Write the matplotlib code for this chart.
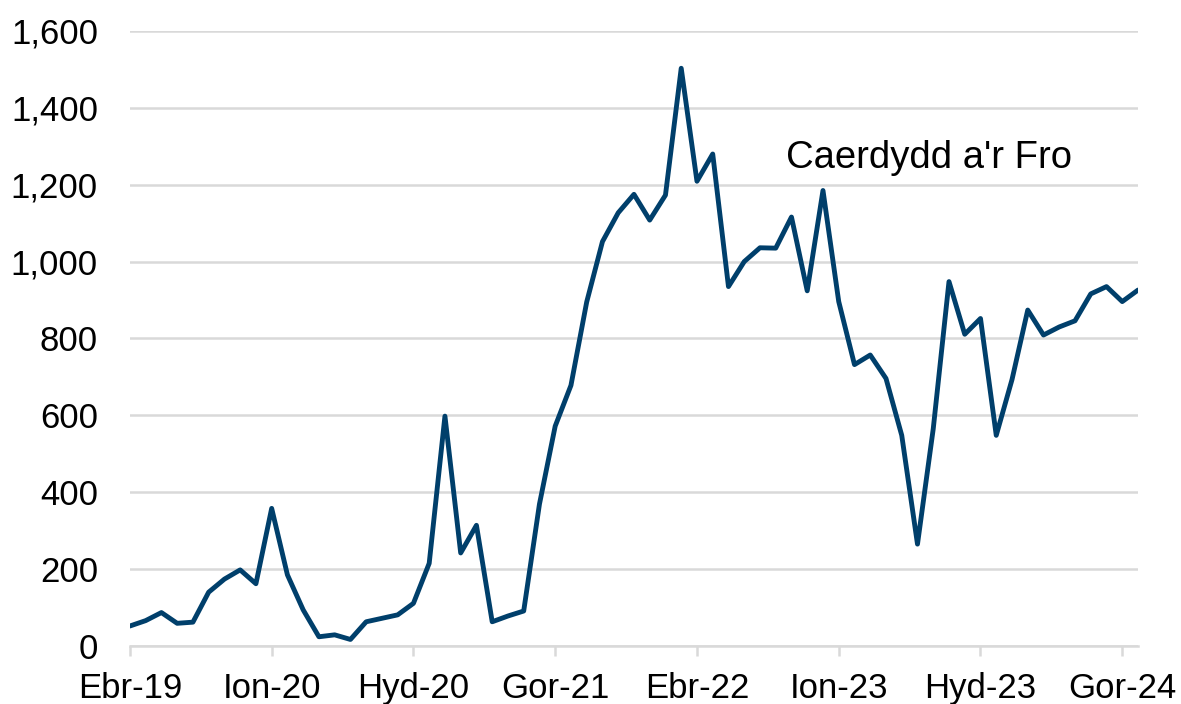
import matplotlib.pyplot as plt
import numpy as np

plt.rcParams['font.family'] = ['Liberation Sans', 'DejaVu Sans']

# monthly values, Ebr-19 (Apr 2019) to Aws-24 (Aug 2024)
values = [52, 66, 87, 59, 62, 140, 174, 198, 162, 358,
          185, 94, 24, 29, 17, 63, 72, 81, 111, 215,
          598, 242, 314, 63, 78, 91, 369, 572, 678, 895,
          1052, 1127, 1175, 1108, 1173, 1503, 1209, 1280, 935, 1000,
          1036, 1035, 1116, 924, 1185, 896, 732, 757, 696, 548,
          265, 565, 948, 811, 852, 548, 693, 874, 809, 830,
          846, 916, 935, 896, 926]
tick_idx = [0, 9, 18, 27, 36, 45, 54, 63]
tick_labels = ['Ebr-19', 'Ion-20', 'Hyd-20', 'Gor-21', 'Ebr-22', 'Ion-23', 'Hyd-23', 'Gor-24']
series_name = "Caerdydd a'r Fro"

x = np.arange(len(values))

fig = plt.figure(figsize=(11.81, 7.04), dpi=100)
ax = fig.add_axes([0.110, 0.0824, 0.8536, 0.8736])

ax.plot(x, values, color='#003f6b', linewidth=3.5, solid_joinstyle='round',
        solid_capstyle='round', zorder=3)

ax.set_xlim(0, len(values) - 1)
ax.set_ylim(0, 1600)
ax.set_yticks(np.arange(0, 1601, 200))
ax.yaxis.set_major_formatter(plt.FuncFormatter(lambda v, p: f'{int(v):,}'))
ax.set_xticks(tick_idx)
ax.set_xticklabels(tick_labels)

ax.grid(axis='y', color='#d9d9d9', linewidth=1.8, zorder=0)
for s in ['left', 'right', 'top']:
    ax.spines[s].set_visible(False)
ax.spines['bottom'].set_color('#d9d9d9')
ax.spines['bottom'].set_linewidth(1.8)

ax.tick_params(axis='y', length=0, pad=23, labelsize=25)
ax.tick_params(axis='x', length=7.5, width=1.8, color='#d9d9d9', pad=11, labelsize=25)

ax.text(50.7, 1269, series_name, fontsize=27.5, ha='center', va='center')

fig.savefig('out.png', dpi=100)
